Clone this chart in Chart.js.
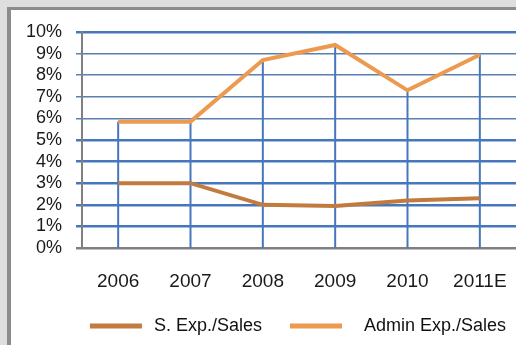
<!DOCTYPE html>
<html>
<head>
<meta charset="utf-8">
<script src="https://cdn.jsdelivr.net/npm/chart.js@4/dist/chart.umd.min.js"></script>
<style>
  html, body { margin: 0; padding: 0; }
  body { width: 516px; height: 345px; background: #dedede; position: relative; overflow: hidden; }
  .panel {
    position: absolute; left: 7px; top: 7px; right: -10px; bottom: -10px;
    background: #fff; border-left: 4px solid #8c8c8c; border-top: 3px solid #8c8c8c;
  }
  #chart { position: absolute; left: 0; top: 0; }
</style>
</head>
<body>
<div class="panel"></div>
<canvas id="chart" width="516" height="345"></canvas>
<script>
// Expense ratios by year (percent of sales)
const years = ['2006', '2007', '2008', '2009', '2010', '2011E'];
const sellingExp = [3.0, 3.0, 2.0, 1.95, 2.2, 2.3];
const adminExp = [5.85, 5.85, 8.7, 9.4, 7.3, 8.95];
const yTicks = [0, 1, 2, 3, 4, 5, 6, 7, 8, 9, 10];

const SELL_COLOR = '#c27b3e';
const ADMIN_COLOR = '#ec9a50';
const GRID_BLUE = '#4677bd';
const FONT = 'Liberation Sans, Arial, sans-serif';

// Vertical drop lines from the top series down to the axis
const dropLines = {
  id: 'dropLines',
  beforeDatasetsDraw(chart) {
    const { ctx, scales: { x, y } } = chart;
    const base = y.getPixelForValue(0);
    ctx.save();
    ctx.strokeStyle = GRID_BLUE;
    ctx.lineWidth = 2;
    adminExp.forEach((v, i) => {
      const px = x.getPixelForValue(i);
      ctx.beginPath();
      ctx.moveTo(px, y.getPixelForValue(v));
      ctx.lineTo(px, base);
      ctx.stroke();
    });
    ctx.restore();
  }
};

// Centre the legend under the plot area rather than the whole canvas
const legendShift = {
  id: 'legendShift',
  afterLayout(chart) {
    const lg = chart.legend;
    const dx = 41;
    lg.left += dx;
    lg.right += dx;
  }
};

new Chart(document.getElementById('chart'), {
  type: 'line',
  data: {
    labels: years,
    datasets: [
      {
        label: 'S. Exp./Sales',
        data: sellingExp,
        borderColor: SELL_COLOR,
        backgroundColor: SELL_COLOR,
        borderWidth: 4,
        pointRadius: 0,
        tension: 0
      },
      {
        label: 'Admin Exp./Sales',
        data: adminExp,
        borderColor: ADMIN_COLOR,
        backgroundColor: ADMIN_COLOR,
        borderWidth: 4,
        pointRadius: 0,
        tension: 0
      }
    ]
  },
  options: {
    responsive: false,
    animation: false,
    layout: { padding: { left: 0, right: 0, top: 32, bottom: 0 } },
    plugins: {
      tooltip: { enabled: false },
      legend: {
        position: 'bottom',
        labels: {
          boxWidth: 48,
          boxHeight: 1,
          padding: 10,
          color: '#111',
          font: { family: FONT, size: 18 },
          // a little air after the swatch, wider gap between the two entries
          generateLabels(chart) {
            const items = Chart.defaults.plugins.legend.labels.generateLabels(chart);
            items.forEach((it, i) => {
              it.text = i === 0 ? ' ' + it.text + '    ' : '   ' + it.text;
            });
            return items;
          }
        }
      }
    },
    scales: {
      x: {
        offset: true,
        grid: { display: false, drawTicks: false },
        border: { display: false },
        ticks: {
          padding: 22,
          color: '#1a1a1a',
          font: { family: FONT, size: 19 }
        },
        afterFit(scale) {
          scale.height = 59;
          scale.paddingLeft = 0;
          scale.paddingRight = 0;
        }
      },
      y: {
        min: 0,
        max: 10,
        afterBuildTicks(scale) { scale.ticks = yTicks.map(v => ({ value: v })); },
        afterFit(scale) { scale.width = 82; },
        grid: {
          tickLength: 6,
          color: ctx => ctx.tick.value === 0 ? '#808080' : (ctx.tick.value >= 6 && ctx.tick.value <= 9 ? '#5a7fb0' : GRID_BLUE),
          lineWidth: ctx => (ctx.tick.value >= 6 && ctx.tick.value <= 9) ? 1.5 : 2.5
        },
        border: { color: '#808080', width: 2 },
        ticks: {
          autoSkip: false,
          padding: 14,
          color: '#1a1a1a',
          font: { family: FONT, size: 18 },
          callback: v => v + '%'
        }
      }
    }
  },
  plugins: [dropLines, legendShift]
});
</script>
</body>
</html>
